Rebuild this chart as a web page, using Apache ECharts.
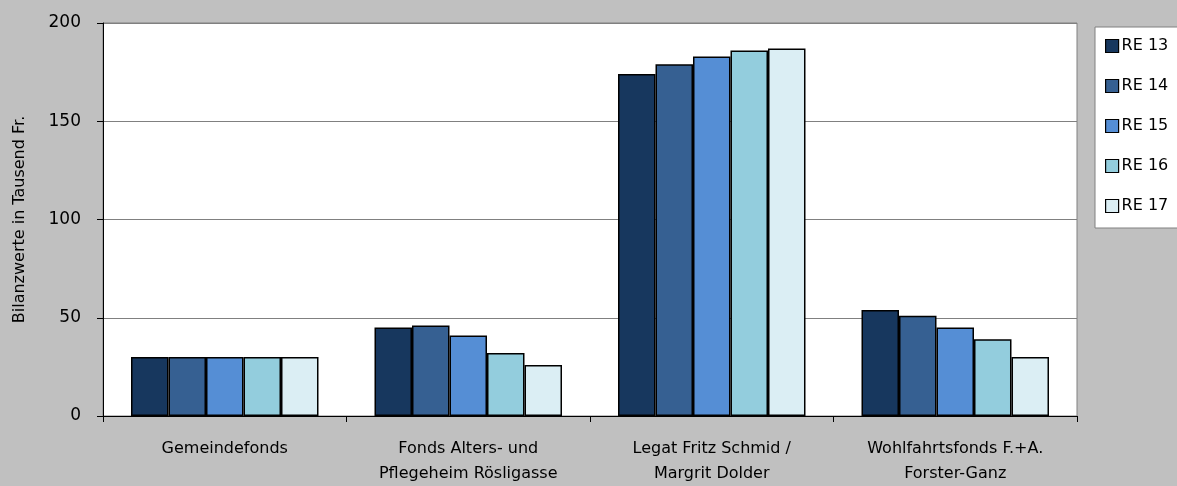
<!DOCTYPE html>
<html>
<head>
<meta charset="utf-8">
<script src="https://cdn.jsdelivr.net/npm/echarts@6/dist/echarts.min.js"></script>
<style>
  html, body { margin: 0; padding: 0; background: #c0c0c0; }
  #chart { width: 1177px; height: 486px; }
</style>
</head>
<body>
<div id="chart"></div>
<script>
// Fund categories (x axis)
const categories = [
  'Gemeindefonds',
  'Fonds Alters- und\nPflegeheim Rösligasse',
  'Legat Fritz Schmid /\nMargrit Dolder',
  'Wohlfahrtsfonds F.+A.\nForster-Ganz'
];

// Balance values per accounting year, in thousand francs
const re13 = [30, 45, 174, 54];
const re14 = [30, 46, 179, 51];
const re15 = [30, 41, 183, 45];
const re16 = [30, 32, 186, 39];
const re17 = [30, 26, 187, 30];

const seriesNames = ['RE 13', 'RE 14', 'RE 15', 'RE 16', 'RE 17'];
const seriesValues = [re13, re14, re15, re16, re17];
const seriesColors = ['#17375e', '#366092', '#558ed5', '#93cddd', '#dbeef4'];

const fontFamily = '"DejaVu Sans", sans-serif';

const chart = echarts.init(document.getElementById('chart'), null, { renderer: 'canvas' });

chart.setOption({
  backgroundColor: '#c0c0c0',
  animation: false,
  textStyle: { fontFamily: fontFamily, color: '#000' },
  grid: {
    left: 103, top: 23, right: 100, bottom: 69,
    show: true,
    backgroundColor: '#ffffff',
    borderColor: '#808080',
    borderWidth: 1
  },
  legend: {
    orient: 'vertical',
    left: 1095,
    top: 27,
    data: seriesNames,
    icon: 'rect',
    itemWidth: 13,
    itemHeight: 13,
    itemGap: 24,
    padding: [11, 30, 14, 10],
    backgroundColor: '#ffffff',
    borderColor: '#808080',
    borderWidth: 1,
    itemStyle: { borderColor: '#000', borderWidth: 1.2 },
    textStyle: { fontFamily: fontFamily, fontSize: 16, color: '#000', padding: [0, 0, 0, -2] }
  },
  xAxis: {
    type: 'category',
    data: categories,
    axisLine: { lineStyle: { color: '#000', width: 1 } },
    axisTick: { show: true, alignWithLabel: false, length: 6, lineStyle: { color: '#000' } },
    axisLabel: {
      fontFamily: fontFamily, fontSize: 16, color: '#000',
      margin: 20, lineHeight: 25, interval: 0
    }
  },
  yAxis: {
    type: 'value',
    min: 0, max: 200, interval: 50,
    name: 'Bilanzwerte in Tausend Fr.',
    nameLocation: 'middle',
    nameGap: 75,
    nameRotate: 90,
    nameTextStyle: { fontFamily: fontFamily, fontSize: 16, color: '#000' },
    axisLine: { show: true, lineStyle: { color: '#000', width: 1 } },
    axisTick: { show: true, length: 6, lineStyle: { color: '#000' } },
    axisLabel: { fontFamily: fontFamily, fontSize: 17, color: '#000', margin: 22 },
    splitLine: { show: true, lineStyle: { color: '#808080', width: 1 } }
  },
  series: seriesNames.map((name, i) => ({
    name: name,
    type: 'bar',
    data: seriesValues[i],
    barGap: '0%',
    barCategoryGap: '23%',
    itemStyle: { color: seriesColors[i], borderColor: '#000', borderWidth: 1.5 }
  }))
});
</script>
</body>
</html>
